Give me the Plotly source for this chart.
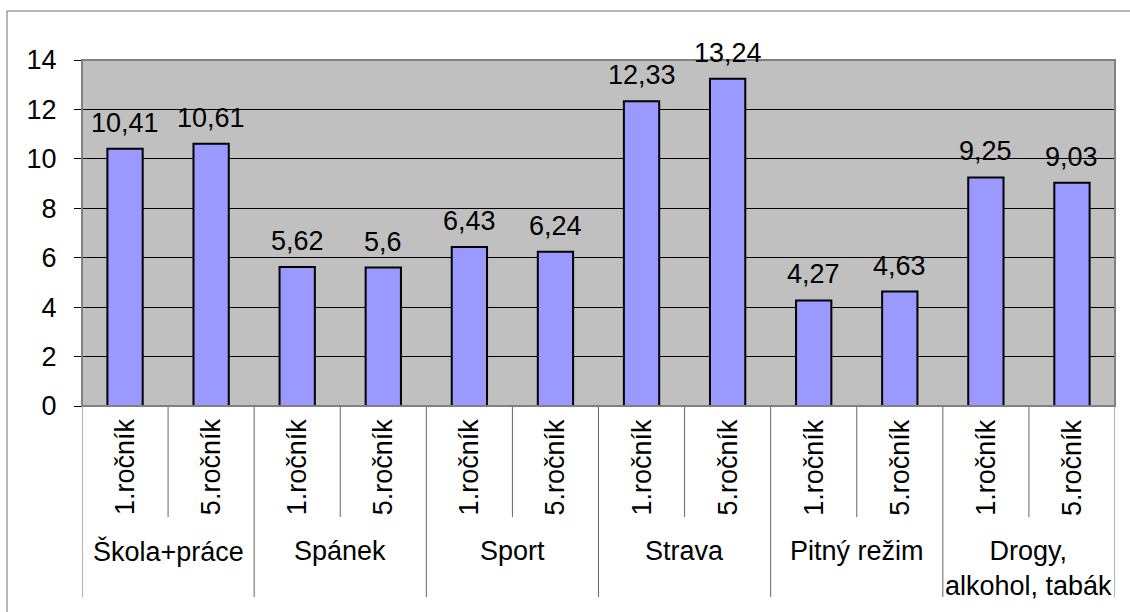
import plotly.graph_objects as go

# Survey results: average score per area for first- and fifth-year students
groups = ["Škola+práce", "Spánek", "Sport", "Strava", "Pitný režim", "Drogy,<br>alkohol, tabák"]
grades = ["1.ročník", "5.ročník"]
values_1 = [10.41, 5.62, 6.43, 12.33, 4.27, 9.25]
values_5 = [10.61, 5.6, 6.24, 13.24, 4.63, 9.03]
y_ticks = [0, 2, 4, 6, 8, 10, 12, 14]

W, H = 1130, 612
ML, MR, MT, MB = 82, 15, 60, 206
PW, PH = W - ML - MR, H - MT - MB
FONT = "Liberation Sans, Arial, sans-serif"
FS = 27


def py_paper(py):
    return (H - MB - py) / PH


def px_paper(px):
    return (px - ML) / PW


def fmt(v):
    return ("%g" % v).replace(".", ",")


cats, vals, grade_of = [], [], []
for g, v1, v5 in zip(groups, values_1, values_5):
    for gr, v in zip(grades, (v1, v5)):
        cats.append(g + " | " + gr)
        vals.append(v)
        grade_of.append(gr)

fig = go.Figure(
    go.Bar(
        x=cats,
        y=vals,
        marker=dict(color="#9999FF", line=dict(color="black", width=2)),
        width=0.41,
        hoverinfo="x+y",
    )
)

annotations = []
# value labels above the bars
for c, v in zip(cats, vals):
    annotations.append(dict(
        x=c, y=v, xref="x", yref="y", text=fmt(v), showarrow=False,
        yanchor="bottom", yshift=9, font=dict(size=FS, color="black", family=FONT),
    ))
# rotated year labels under each bar
for c, gr in zip(cats, grade_of):
    annotations.append(dict(
        x=c, y=py_paper(467), xref="x", yref="paper", text=gr, showarrow=False,
        textangle=-90, xanchor="center", yanchor="middle",
        font=dict(size=FS, color="black", family=FONT),
    ))
# group labels
for i, g in enumerate(groups):
    annotations.append(dict(
        x=2 * i + 0.5, y=py_paper(534), xref="x", yref="paper", text=g, showarrow=False,
        xanchor="center", yanchor="top",
        font=dict(size=FS, color="black", family=FONT),
    ))

shapes = []
# category separators below the axis
for k in range(len(cats) + 1):
    bottom = 597 if k % 2 == 0 else 517
    shapes.append(dict(
        type="line", xref="x", yref="paper",
        x0=k - 0.5, x1=k - 0.5, y0=py_paper(406), y1=py_paper(bottom),
        line=dict(color="#666666", width=1),
    ))
# plot area border
shapes.append(dict(
    type="rect", xref="paper", yref="paper", x0=0, x1=1, y0=0, y1=1,
    line=dict(color="#808080", width=2), layer="above",
))
# chart frame
shapes.append(dict(
    type="rect", xref="paper", yref="paper",
    x0=px_paper(7), x1=px_paper(1140), y0=py_paper(622), y1=py_paper(11),
    line=dict(color="#6e6e6e", width=1),
))

fig.update_layout(
    width=W, height=H,
    margin=dict(l=ML, r=MR, t=MT, b=MB, pad=0),
    paper_bgcolor="white",
    plot_bgcolor="#C0C0C0",
    showlegend=False,
    annotations=annotations,
    shapes=shapes,
    font=dict(family=FONT, size=FS, color="black"),
    xaxis=dict(
        type="category", range=[-0.5, len(cats) - 0.5],
        showticklabels=False, showgrid=False, ticks="",
        showline=True, linecolor="black", linewidth=1, zeroline=False,
        fixedrange=True,
    ),
    yaxis=dict(
        range=[0, 14], tickvals=y_ticks, ticktext=[str(t) for t in y_ticks],
        showgrid=True, gridcolor="black", gridwidth=1,
        ticks="outside", ticklen=7, tickcolor="black", tickwidth=1,
        showline=True, linecolor="#808080", linewidth=1,
        zeroline=True, zerolinecolor="black", zerolinewidth=1,
        tickfont=dict(size=FS, color="black", family=FONT),
        ticklabelstandoff=12,
        fixedrange=True,
    ),
)

fig.write_html("out.html", config={"displayModeBar": False})
